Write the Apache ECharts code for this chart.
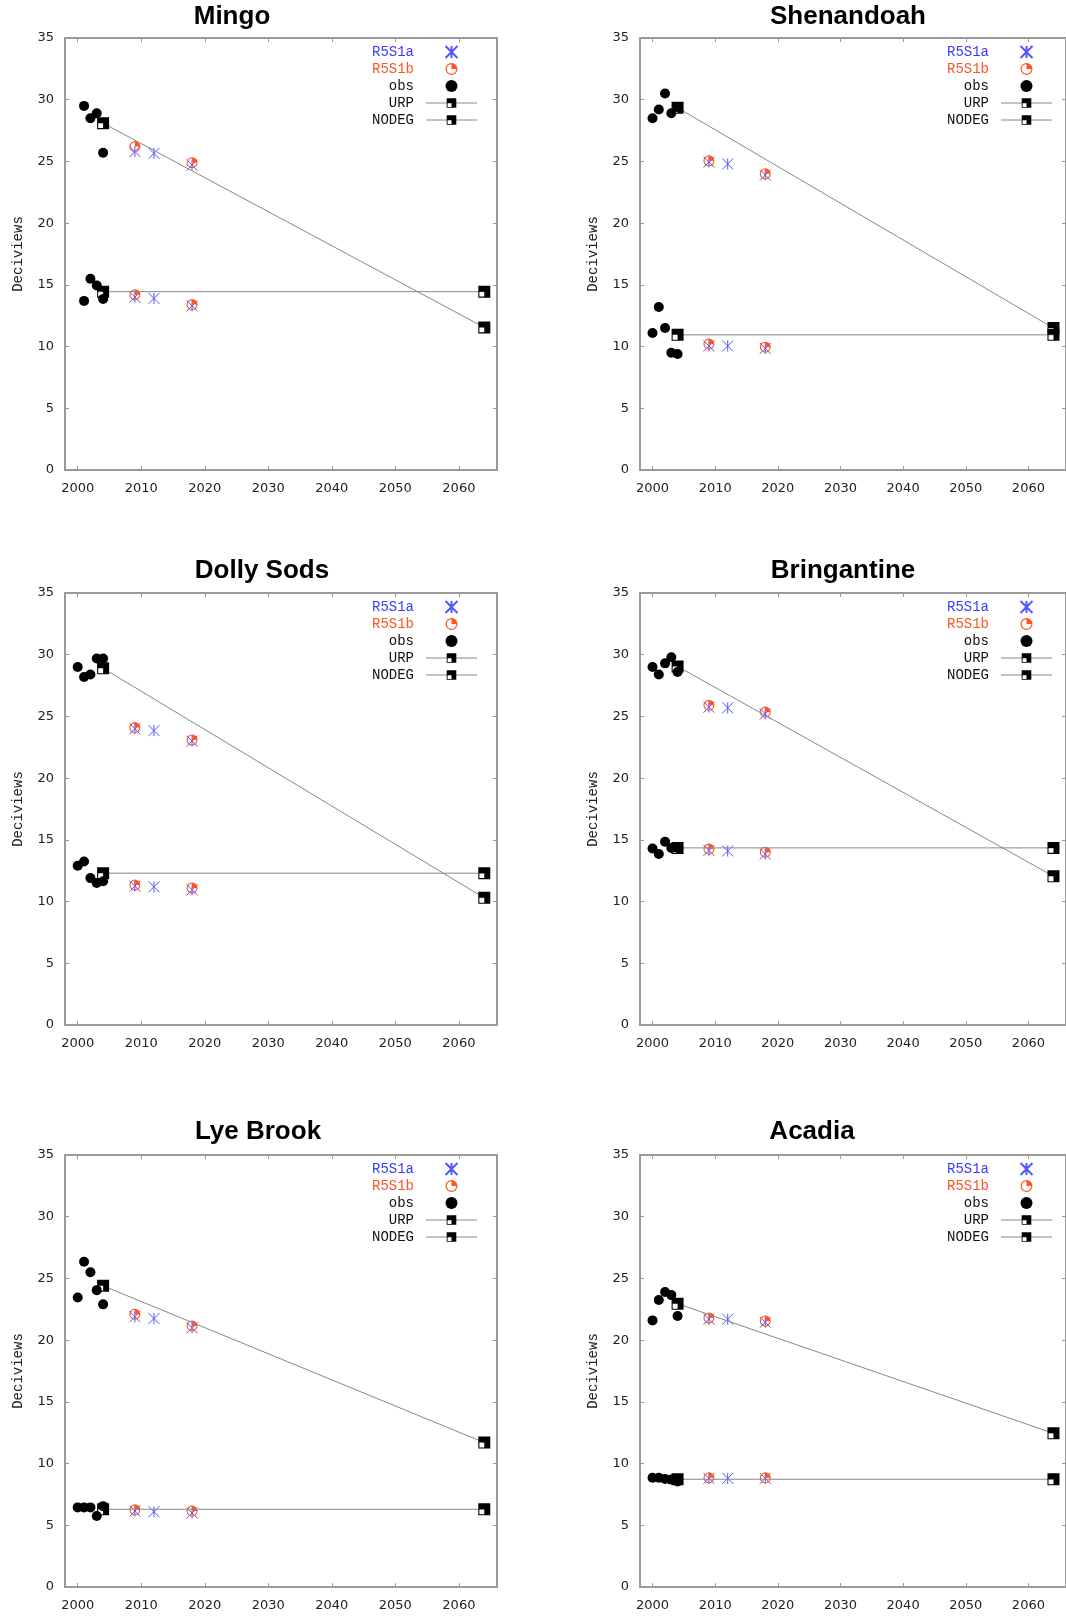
<!DOCTYPE html>
<html>
<head>
<meta charset="utf-8">
<title>Deciviews glide paths</title>
<script src="https://cdn.jsdelivr.net/npm/echarts@6/dist/echarts.min.js"></script>
<style>
  html, body { margin: 0; padding: 0; background: #fff; }
  #main { width: 1066px; height: 1616px; }
</style>
</head>
<body>
<div id="main"></div>
<script>
// one panel per site
const sites = ['Mingo', 'Shenandoah', 'Dolly Sods', 'Bringantine', 'Lye Brook', 'Acadia']
const obsYears = [2000, 2001, 2002, 2003, 2004]
const r5s1aYears = [2009, 2012, 2018]
const r5s1bYears = [2009, 2018]
const glideYears = [2004, 2064]
const yearTicks = [2000, 2010, 2020, 2030, 2040, 2050, 2060]
const legendNames = ['R5S1a', 'R5S1b', 'obs', 'URP', 'NODEG']

// observed, worst days (upper group) / best days (lower group)
const obsWorst = [
  [null, 29.5, 28.5, 28.9, 25.7],
  [28.5, 29.2, 30.5, 28.9, 29.4],
  [29.0, 28.2, 28.4, 29.7, 29.7],
  [29.0, 28.4, 29.3, 29.8, 28.6],
  [23.45, 26.35, 25.5, 24.05, 22.9],
  [21.6, 23.25, 23.9, 23.65, 21.95]
]
const obsBest = [
  [null, 13.7, 15.5, 14.95, 13.85],
  [11.1, 13.2, 11.5, 9.5, 9.4],
  [12.9, 13.25, 11.9, 11.5, 11.65],
  [14.3, 13.85, 14.85, 14.35, 14.35],
  [6.45, 6.45, 6.45, 5.75, 6.55],
  [8.85, 8.85, 8.75, 8.7, 8.55]
]
// model runs
const r5s1aWorst = [
  [25.8, 25.65, 24.7],
  [24.95, 24.8, 23.9],
  [24.0, 23.85, 23.0],
  [25.75, 25.7, 25.2],
  [21.9, 21.75, 21.0],
  [21.7, 21.7, 21.45]
]
const r5s1aBest = [
  [14.0, 13.9, 13.3],
  [10.05, 10.05, 9.85],
  [11.25, 11.2, 10.95],
  [14.15, 14.1, 13.85],
  [6.15, 6.1, 6.0],
  [8.8, 8.8, 8.8]
]
const r5s1bWorst = [
  [26.2, 24.9],
  [25.05, 24.0],
  [24.1, 23.1],
  [25.9, 25.35],
  [22.1, 21.15],
  [21.8, 21.55]
]
const r5s1bBest = [
  [14.2, 13.4],
  [10.2, 9.95],
  [11.35, 11.1],
  [14.25, 14.0],
  [6.25, 6.15],
  [8.85, 8.85]
]
// glide path (2004 baseline -> 2064) and no-degradation level
const urpStart = [28.1, 29.35, 28.9, 29.05, 24.4, 22.95]
const urpEnd = [11.55, 11.5, 10.3, 12.05, 11.7, 12.45]
const nodeg = [14.45, 10.95, 12.3, 14.35, 6.3, 8.73]

// layout
const grids = [
  { left: 65, top: 38 }, { left: 640, top: 38 },
  { left: 65, top: 593 }, { left: 640, top: 593 },
  { left: 65, top: 1155 }, { left: 640, top: 1155 }
]
const titlePos = [[232, 17], [848, 17], [262, 571], [843, 571], [258, 1132], [812, 1132]]

const mono = '"Liberation Mono", "DejaVu Sans Mono", monospace'
const tickFont = '"DejaVu Sans", sans-serif'
const frameColor = '#9a9a9a'

const STAR = 'path://M0,0L20,20M20,0L0,20M10,0L10,20'
const PIE = 'path://M0,10A10,10 0 1 1 20,10A10,10 0 1 1 0,10ZM2,10A8,8 0 1 0 18,10A8,8 0 1 0 2,10ZM10,10L10,0A10,10 0 0 1 20,10Z'
// black square, white lower-left quarter inside the outline
const SQ = 'path://M0,0H20V20H10V10H0ZM0,10H10V20H0ZM1.8,10V18.2H10V10Z'

let pairs = (years, vals) => years.map((y, i) => [y, vals[i]]).filter(p => p[1] != null)

let xAxisFor = (i, pos) => ({
  gridIndex: i,
  type: 'value',
  min: 1998,
  max: 2066,
  position: pos,
  axisLine: { show: true, onZero: false, lineStyle: { color: frameColor, width: 2 } },
  axisTick: { show: true, inside: true, length: 4, customValues: yearTicks, lineStyle: { color: frameColor } },
  axisLabel: {
    show: pos === 'bottom',
    customValues: yearTicks,
    formatter: v => String(v),
    margin: 12,
    color: '#222',
    fontFamily: tickFont,
    fontSize: 13
  },
  splitLine: { show: false }
})

let yAxisFor = (i, pos) => ({
  gridIndex: i,
  type: 'value',
  min: 0,
  max: 35,
  interval: 5,
  position: pos,
  name: pos === 'left' ? 'Deciviews' : '',
  nameLocation: 'middle',
  nameRotate: 90,
  nameGap: 40,
  nameTextStyle: { color: '#222', fontFamily: mono, fontSize: 14 },
  axisLine: { show: true, onZero: false, lineStyle: { color: frameColor, width: 2 } },
  axisTick: { show: true, inside: true, length: 4, lineStyle: { color: frameColor } },
  axisLabel: { show: pos === 'left', margin: 11, color: '#222', fontFamily: tickFont, fontSize: 13 },
  splitLine: { show: false }
})

let xAxis = []
let yAxis = []
let series = []
sites.forEach((site, i) => {
  xAxis.push(xAxisFor(i, 'bottom'), xAxisFor(i, 'top'))
  yAxis.push(yAxisFor(i, 'left'), yAxisFor(i, 'right'))
  let ax = { xAxisIndex: i * 2, yAxisIndex: i * 2 }
  series.push(
    Object.assign({
      name: 'R5S1a',
      type: 'scatter',
      symbol: STAR,
      symbolSize: 11,
      itemStyle: { color: 'rgba(0,0,0,0)', borderColor: '#5555ff', borderWidth: 1, opacity: 1 },
      data: pairs(r5s1aYears, r5s1aWorst[i]).concat(pairs(r5s1aYears, r5s1aBest[i]))
    }, ax),
    Object.assign({
      name: 'R5S1b',
      type: 'scatter',
      symbol: PIE,
      symbolSize: 11,
      itemStyle: { color: '#ff5522', opacity: 1 },
      data: pairs(r5s1bYears, r5s1bWorst[i]).concat(pairs(r5s1bYears, r5s1bBest[i]))
    }, ax),
    Object.assign({
      name: 'obs',
      type: 'scatter',
      symbol: 'circle',
      symbolSize: 10,
      itemStyle: { color: '#000', opacity: 1 },
      data: pairs(obsYears, obsWorst[i]).concat(pairs(obsYears, obsBest[i]))
    }, ax),
    Object.assign({
      name: 'URP',
      type: 'line',
      symbol: SQ,
      symbolSize: 12,
      showSymbol: true,
      lineStyle: { color: '#888', width: 1 },
      itemStyle: { color: '#000' },
      data: pairs(glideYears, [urpStart[i], urpEnd[i]])
    }, ax),
    Object.assign({
      name: 'NODEG',
      type: 'line',
      symbol: SQ,
      symbolSize: 12,
      showSymbol: true,
      lineStyle: { color: '#888', width: 1 },
      itemStyle: { color: '#000' },
      data: pairs(glideYears, [nodeg[i], nodeg[i]])
    }, ax)
  )
})

let legendKey = { R5S1a: 'a', R5S1b: 'b', obs: 'k', URP: 'k', NODEG: 'k' }
let richItem = color => ({ color: color, width: 56, align: 'right', padding: [0, 7, 0, 0], fontFamily: mono, fontSize: 14, lineHeight: 13 })

let option = {
  backgroundColor: '#fff',
  animation: false,
  grid: grids.map(g => ({ left: g.left, top: g.top, width: 432, height: 432 })),
  xAxis: xAxis,
  yAxis: yAxis,
  legend: grids.map(g => ({
    orient: 'vertical',
    left: g.left + 288,
    top: g.top + 2,
    align: 'right',
    itemWidth: 51,
    itemHeight: 12,
    itemGap: 3,
    selectedMode: false,
    data: legendNames,
    lineStyle: { width: 1, color: '#888' },
    formatter: name => '{' + legendKey[name] + '|' + name + '}',
    textStyle: {
      fontFamily: mono,
      fontSize: 14,
      rich: { a: richItem('#3b3bff'), b: richItem('#ff5522'), k: richItem('#111') }
    }
  })),
  graphic: sites.map((site, i) => ({
    type: 'text',
    x: titlePos[i][0],
    y: titlePos[i][1],
    style: {
      text: site,
      fill: '#000',
      font: 'bold 26px "Liberation Sans", Arial, sans-serif',
      align: 'center',
      verticalAlign: 'middle',
      textAlign: 'center',
      textVerticalAlign: 'middle'
    }
  })),
  series: series
}

let chart = echarts.init(document.getElementById('main'))
chart.setOption(option)
</script>
</body>
</html>
